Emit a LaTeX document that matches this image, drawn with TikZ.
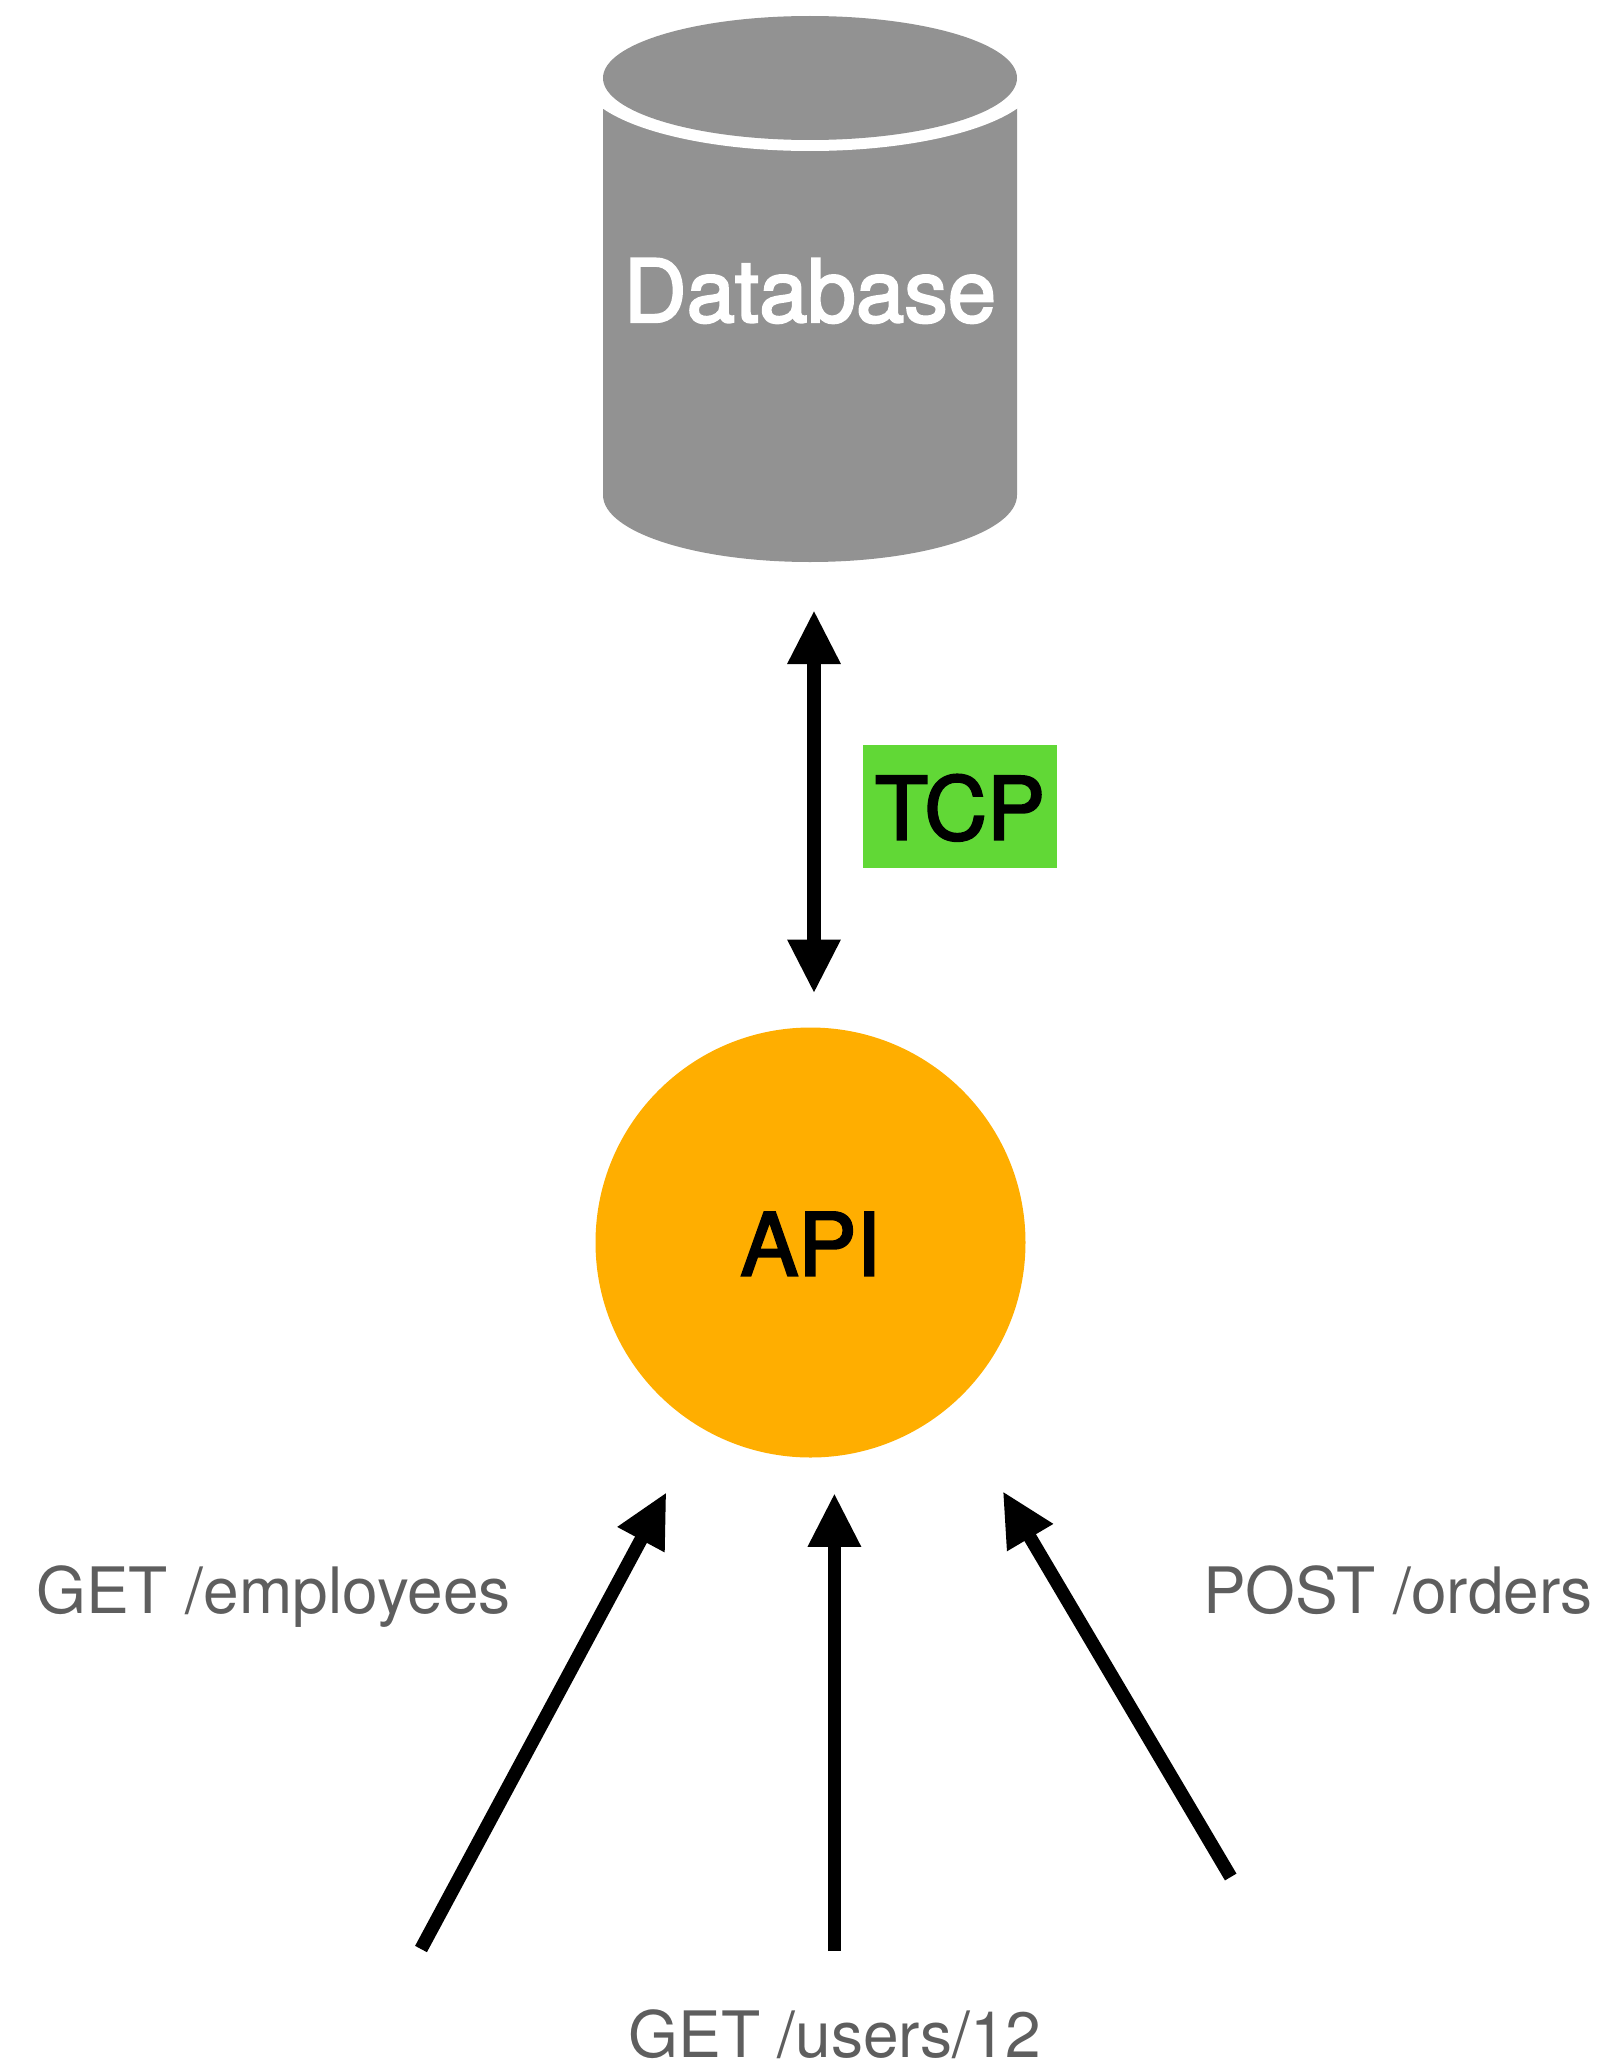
\documentclass[tikz,border=0pt]{standalone}
\usepackage{fontspec}
\setmainfont{TeX Gyre Heros}
\newfontfamily\medfont[FakeBold=2.5]{TeX Gyre Heros}
\usetikzlibrary{arrows.meta}

\definecolor{dbgray}{HTML}{929292}
\definecolor{apiorange}{HTML}{FFAE00}
\definecolor{tcpgreen}{HTML}{61D836}
\definecolor{reqgray}{HTML}{5E5E5E}

\tikzset{
    bigtext/.style={font=\medfont\fontsize{43.5pt}{50pt}\selectfont,text height=33pt,text depth=0pt},
    reqtext/.style={font=\fontsize{32pt}{38pt}\selectfont,text=reqgray,anchor=base,inner sep=0pt},
    link/.style={line width=6.7pt}
}

\begin{document}
\begin{tikzpicture}[->,>={Triangle[length=27pt,width=24.8pt]},x=0.5pt,y=-0.5pt]

\useasboundingbox (0,0) rectangle (1603,2066);

\path [fill=dbgray]
    (603,78) -- (1017,78) -- (1017,495)
    arc [start angle=0,end angle=-180,x radius=207,y radius=-67]
    -- cycle
;
\path [fill=white] (810,78) ellipse [x radius=228,y radius=73];
\path [fill=dbgray] (810,78) ellipse [x radius=207,y radius=62];

\node (db) [bigtext,text=white,minimum width=207pt,minimum height=273pt,inner sep=0pt] at (810,289) {Database};
\node (api) [bigtext,circle,fill=apiorange,minimum size=215pt,inner sep=0pt] at (810.5,1242.5) {API};
\node (tcp) [bigtext,fill=tcpgreen,minimum width=97pt,minimum height=61.5pt,inner sep=0pt] at (960,806.5) {TCP};

\node (reqa) [reqtext] at (273.5,1613) {GET /employees};
\node (reqb) [reqtext] at (835,2057) {GET /users/12};
\node (reqc) [reqtext] at (1398,1613) {POST /orders};

\coordinate (taila) at (421,1949);
\coordinate (tailb) at (834.4,1951);
\coordinate (tailc) at (1230.7,1877);

\draw [link,<->] ([xshift=2pt,yshift=-23.8pt]db.south) -- ([xshift=1.75pt,yshift=16.8pt]api.north);

\draw [link] (taila) -- ([xshift=-72pt,yshift=-17.1pt]api.south);
\draw [link] (tailb) -- ([xshift=11.95pt,yshift=-17.5pt]api.south);
\draw [link] (tailc) -- ([xshift=96.1pt,yshift=-16.6pt]api.south);

\end{tikzpicture}
\end{document}
